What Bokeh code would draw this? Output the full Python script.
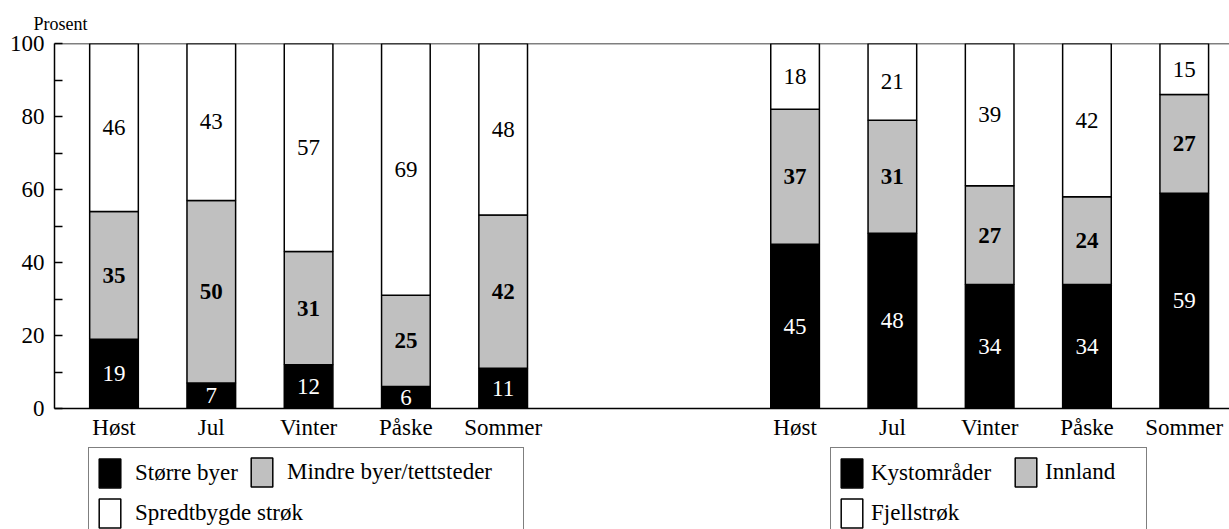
from bokeh.plotting import figure
from bokeh.layouts import column
from bokeh.models import (ColumnDataSource, Legend, LegendItem, FixedTicker,
                          Span, Range1d)
from bokeh.core.properties import value
from bokeh.embed import file_html
from bokeh.resources import INLINE

# ---------------- data ----------------
seasons = ["Høst", "Jul", "Vinter", "Påske", "Sommer"]
left_names = ["Større byer", "Mindre byer/tettsteder", "Spredtbygde strøk"]
right_names = ["Kystområder", "Innland", "Fjellstrøk"]
storre_byer = [19, 7, 12, 6, 11]
mindre_byer = [35, 50, 31, 25, 42]
spredtbygde = [46, 43, 57, 69, 48]
kystomrader = [45, 48, 34, 34, 59]
innland = [37, 31, 27, 24, 27]
fjellstrok = [18, 21, 39, 42, 15]
y_ticks = [0, 20, 40, 60, 80, 100]
y_label = "Prosent"

# ---------------- style ----------------
FONT = "Liberation Serif"
FS = "23px"
fills = ["#000000", "#c0c0c0", "#ffffff"]
text_colors = ["#ffffff", "#000000", "#000000"]
text_bold = [False, True, False]

n = len(seasons)
left_x = list(range(n))
right_x = [n + 2 + i for i in range(n)]
left_series = [storre_byer, mindre_byer, spredtbygde]
right_series = [kystomrader, innland, fjellstrok]

p = figure(width=1229, height=446, output_backend="svg", toolbar_location=None,
           x_range=Range1d(-0.6115, 11.465), y_range=Range1d(0, 100),
           min_border_left=54, min_border_right=0, min_border_top=43,
           min_border_bottom=38, background_fill_color="white",
           border_fill_color="white")
p.outline_line_color = None
p.xgrid.grid_line_color = None
p.ygrid.grid_line_color = None


def add_group(xs, series):
    src = ColumnDataSource(dict(x=xs, s0=series[0], s1=series[1], s2=series[2]))
    rs = p.vbar_stack(["s0", "s1", "s2"], x="x", width=0.5, source=src,
                      fill_color=fills, line_color="black", line_width=1.5)
    for bold in (False, True):
        lx, ly, lt, lc = [], [], [], []
        for i, x in enumerate(xs):
            bottom = 0
            for k in range(3):
                v = series[k][i]
                top = bottom + v
                if text_bold[k] == bold:
                    lx.append(x)
                    ly.append((bottom + min(top, 100)) / 2)
                    lt.append(str(v))
                    lc.append(text_colors[k])
                bottom = top
        p.text(x="x", y="y", text="t", text_color="c",
               source=ColumnDataSource(dict(x=lx, y=ly, t=lt, c=lc)),
               text_font=value(FONT), text_font_size=FS,
               text_font_style="bold" if bold else "normal",
               text_align="center", text_baseline="middle")
    return rs


rl = add_group(left_x, left_series)
rr = add_group(right_x, right_series)

# top frame line
p.add_layout(Span(location=y_ticks[-1], dimension="width", line_color="black",
                  line_width=1.5))

# y axis
p.yaxis.ticker = FixedTicker(ticks=y_ticks,
                             minor_ticks=[t + 10 for t in y_ticks[:-1]])
p.yaxis.major_tick_in = 8
p.yaxis.major_tick_out = 0
p.yaxis.minor_tick_in = 8
p.yaxis.minor_tick_out = 0
p.yaxis.axis_line_width = 1.5
p.yaxis.major_tick_line_width = 1.5
p.yaxis.minor_tick_line_width = 1.5
p.yaxis.major_label_text_font = FONT
p.yaxis.major_label_text_font_size = FS
p.yaxis.major_label_text_color = "black"
p.yaxis.major_label_standoff = 10

# x axis
p.xaxis.ticker = FixedTicker(ticks=left_x + right_x)
p.xaxis.major_label_overrides = {x: s for x, s in zip(left_x + right_x, seasons + seasons)}
p.xaxis.major_tick_line_color = None
p.xaxis.minor_tick_line_color = None
p.xaxis.axis_line_width = 1.5
p.xaxis.major_label_text_font = FONT
p.xaxis.major_label_text_font_size = FS
p.xaxis.major_label_text_color = "black"
p.xaxis.major_label_standoff = 0

# "Prosent"
p.title.text = y_label
p.title.align = "left"
p.title.offset = -21
p.title.text_font = FONT
p.title.text_font_size = "18px"
p.title.text_font_style = "normal"
p.title.text_color = "black"
p.title.standoff = 19

# ---------------- legend strip ----------------
q = figure(width=1229, height=83, output_backend="svg", toolbar_location=None,
           x_range=Range1d(1000, 1001), y_range=Range1d(1000, 1001),
           x_axis_type=None, y_axis_type=None,
           min_border_left=0, min_border_right=0, min_border_top=0,
           min_border_bottom=0, background_fill_color="white",
           border_fill_color="white")
q.outline_line_color = None
q.xgrid.grid_line_color = None
q.ygrid.grid_line_color = None
# legend keys (hidden; only their swatches are shown in the legends)
key_src = ColumnDataSource(dict(x=left_x, s0=left_series[0], s1=left_series[1],
                                s2=left_series[2]))
keys = q.vbar_stack(["s0", "s1", "s2"], x="x", width=0.5, source=key_src,
                    fill_color=fills, line_color="black", line_width=1.5)
for k in keys:
    k.visible = False


def make_legend(items, loc, border, label_width, standoff):
    lg = Legend(items=items, location=loc, orientation="vertical", margin=0,
                padding=7, spacing=4, glyph_width=27, glyph_height=36,
                label_standoff=standoff, label_width=label_width,
                label_text_font=FONT, label_text_font_size=FS,
                label_text_color="black",
                border_line_color="black" if border else None,
                border_line_width=1.5, background_fill_color="white",
                background_fill_alpha=1.0 if border else 0.0,
                inactive_fill_alpha=0.0)
    q.add_layout(lg)
    return lg


make_legend([LegendItem(label=left_names[0], renderers=[keys[0]]),
             LegendItem(label=left_names[2], renderers=[keys[2]])],
            (34, -10), True, 381, 12)
make_legend([LegendItem(label=left_names[1], renderers=[keys[1]])],
            (194, 39), False, 20, 12)
make_legend([LegendItem(label=right_names[0], renderers=[keys[0]]),
             LegendItem(label=right_names[2], renderers=[keys[2]])],
            (776, -10), True, 268, 6)
make_legend([LegendItem(label=right_names[1], renderers=[keys[1]])],
            (958, 39), False, 20, 6)

layout = column(p, q, spacing=0)
open("out.html", "w").write(file_html(layout, INLINE))
